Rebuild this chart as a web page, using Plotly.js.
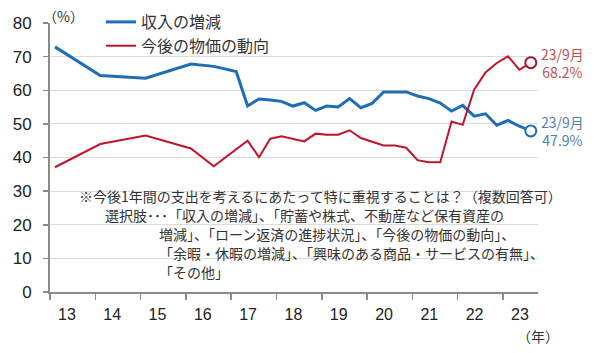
<!DOCTYPE html>
<html>
<head>
<meta charset="utf-8">
<script src="https://cdn.plot.ly/plotly-3.0.1.min.js"></script>
<style>html,body{margin:0;padding:0;background:#fff;}#chart{width:600px;height:353px;}</style>
</head>
<body>
<div id="chart"></div>
<script>
// survey dates (year-month)
const dates = ['2013-03','2014-03','2015-03','2016-03','2016-09','2017-03','2017-06','2017-09','2017-12',
  '2018-03','2018-06','2018-09','2018-12','2019-03','2019-06','2019-09','2019-12',
  '2020-03','2020-06','2020-09','2020-12','2021-03','2021-06','2021-09','2021-12',
  '2022-03','2022-06','2022-09','2022-12','2023-03','2023-06','2023-09'];
// 収入の増減 (%)
const income = [72.9,64.4,63.6,67.8,67.1,65.6,55.3,57.4,57.1,56.7,55.3,56.3,54.0,55.3,55.0,57.5,54.8,
  56.1,59.5,59.5,59.5,58.3,57.5,56.2,53.8,55.5,52.3,53.0,49.6,51.0,49.3,47.9];
// 今後の物価の動向 (%)
const prices = [37.1,44.0,46.5,42.7,37.4,42.4,45.0,40.1,45.6,46.3,45.6,44.8,47.1,46.8,46.8,48.1,45.8,
  44.8,43.6,43.6,42.9,39.2,38.6,38.6,50.7,49.7,60.2,65.3,68.1,70.1,66.1,68.2];
const seriesNames = ['収入の増減','今後の物価の動向'];
const yearLabels = ['13','14','15','16','17','18','19','20','21','22','23'];
const years = [2013,2014,2015,2016,2017,2018,2019,2020,2021,2022,2023];
const yTicks = [0,10,20,30,40,50,60,70,80];
const lastLabel = '23/9月';
const noteLines = [
  '※今後1年間の支出を考えるにあたって特に重視することは？（複数回答可）',
  '選択肢･･･「収入の増減」、「貯蓄や株式、不動産など保有資産の',
  '増減」、「ローン返済の進捗状況」、「今後の物価の動向」、',
  '「余暇・休暇の増減」、「興味のある商品・サービスの有無」、',
  '「その他」'
];

const BLUE = '#1f6eb4', RED = '#c0142c';
const JP = 'Noto Sans CJK JP, sans-serif';
const n = dates.length;
const lastDate = dates[n-1];

const traces = [
  {x: dates, y: income, name: seriesNames[0], legendgroup: 'a', type: 'scatter', mode: 'lines',
   line: {color: BLUE, width: 3}},
  {x: dates, y: prices, name: seriesNames[1], legendgroup: 'b', type: 'scatter', mode: 'lines',
   line: {color: RED, width: 2}},
  {x: [lastDate], y: [income[n-1]], type: 'scatter', mode: 'markers', showlegend: false,
   marker: {size: 11, color: '#fff', line: {color: BLUE, width: 2}}},
  {x: [lastDate], y: [prices[n-1]], type: 'scatter', mode: 'markers', showlegend: false,
   marker: {size: 11, color: '#fff', line: {color: '#a0192c', width: 2}}}
];

const L = 50, R = 538, T = 23, B = 292;
const W = R - L, H = B - T;
const px = v => (v - L) / W;
const py = v => (B - v) / H;

const notePos = [[77,196],[103,215],[157,234],[157,253],[157,272]];
const annotations = noteLines.map((t,i) => ({
  text: t, xref: 'paper', yref: 'paper', x: px(notePos[i][0]), y: py(notePos[i][1]),
  xanchor: 'left', yanchor: 'middle', showarrow: false,
  font: {family: JP, size: 14, color: '#333'}
}));
annotations.push({text: '（%）', xref: 'paper', yref: 'paper', x: px(41), y: py(16),
  xanchor: 'left', yanchor: 'middle', showarrow: false, font: {family: JP, size: 14, color: '#333'}});
annotations.push({text: '（年）', xref: 'paper', yref: 'paper', x: px(538), y: py(336),
  xanchor: 'center', yanchor: 'middle', showarrow: false, font: {family: JP, size: 14, color: '#333'}});
annotations.push({text: lastLabel + '<br>' + prices[n-1].toFixed(1) + '%', x: lastDate, y: prices[n-1],
  xanchor: 'left', yanchor: 'middle', xshift: 8, showarrow: false, align: 'center',
  font: {family: JP, size: 14, color: '#c0504d'}});
annotations.push({text: lastLabel + '<br>' + income[n-1].toFixed(1) + '%', x: lastDate, y: income[n-1],
  xanchor: 'left', yanchor: 'middle', xshift: 8, showarrow: false, align: 'center',
  font: {family: JP, size: 14, color: '#4f7fb8'}});

const layout = {
  width: 600, height: 353,
  margin: {l: L, r: 600 - R, t: T, b: 353 - B, pad: 0, autoexpand: false},
  paper_bgcolor: '#fff', plot_bgcolor: '#fff',
  showlegend: true,
  legend: {x: px(101), y: py(5), xanchor: 'left', yanchor: 'top', traceorder: 'grouped',
    font: {family: JP, size: 16, color: '#333'}, bgcolor: 'rgba(0,0,0,0)', tracegroupgap: 0},
  xaxis: {
    type: 'date', range: ['2013-01-20', '2023-10-29'],
    tickmode: 'array', tickvals: years.map(y => y + '-06-05'), ticktext: yearLabels,
    ticks: '', showgrid: false, zeroline: false,
    showline: true, linecolor: '#8a8a8a', linewidth: 2,
    tickfont: {family: 'Liberation Sans, Arial, sans-serif', size: 16, color: '#222'},
    ticklabelstandoff: 7,
    minor: {tickmode: 'array', tickvals: years.map(y => y + '-01-20'), ticks: 'outside',
      ticklen: 6, tickwidth: 1.5, tickcolor: '#8a8a8a', showgrid: false}
  },
  yaxis: {
    range: [0, 80], tickmode: 'array', tickvals: yTicks,
    ticks: 'outside', ticklen: 5, tickwidth: 1.5, tickcolor: '#8a8a8a',
    showgrid: true, gridcolor: '#dcdcdc', gridwidth: 1,
    zeroline: false, showline: true, linecolor: '#8a8a8a', linewidth: 2,
    tickfont: {family: 'Liberation Sans, Arial, sans-serif', size: 17, color: '#222'},
    ticklabelstandoff: 8
  },
  annotations: annotations
};

Plotly.newPlot('chart', traces, layout, {displayModeBar: false, staticPlot: true});
</script>
</body>
</html>
